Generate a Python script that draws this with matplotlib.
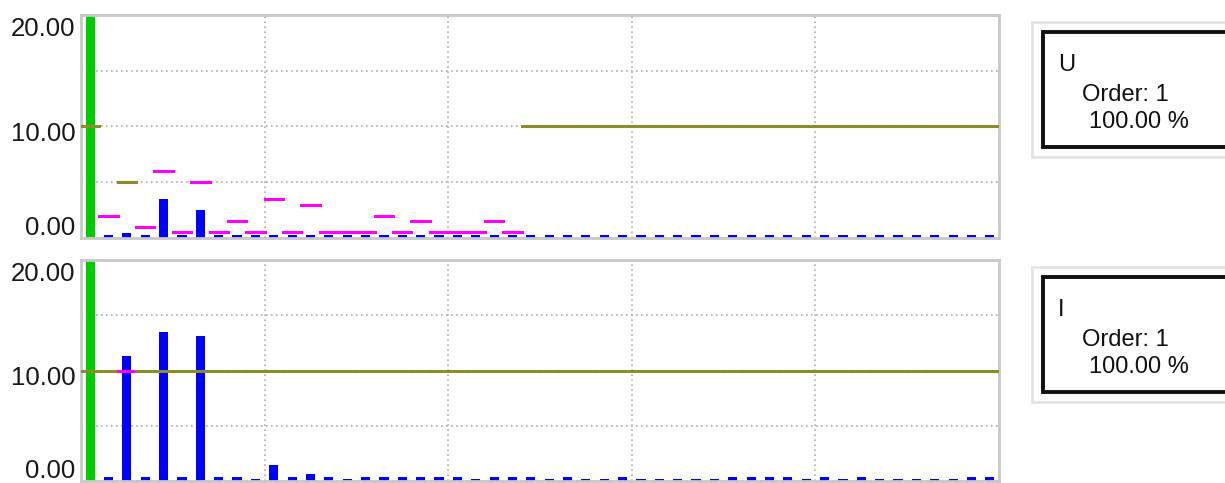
import numpy as np
import matplotlib.pyplot as plt
from matplotlib.patches import Rectangle
from matplotlib.transforms import blended_transform_factory

plt.rcParams['font.family'] = ['Liberation Sans', 'DejaVu Sans']

# harmonic orders 1..50
orders = np.arange(1, 51)

# measured values (%), order 1 is the fundamental (100 %)
u_values = [100, 0.27, 0.45, 0.27, 3.5, 0.27, 2.5, 0.27, 0.27, 0.27,
            0.27, 0.27, 0.27, 0.27, 0.27, 0.27, 0.27, 0.27, 0.27, 0.27,
            0.27, 0.27, 0.27, 0.27, 0.27, 0.27, 0.27, 0.27, 0.27, 0.27,
            0.27, 0.27, 0.27, 0.27, 0.27, 0.27, 0.27, 0.27, 0.27, 0.27,
            0.27, 0.27, 0.27, 0.27, 0.27, 0.27, 0.27, 0.27, 0.27, 0.27]
i_values = [100, 0.4, 11.3, 0.4, 13.5, 0.4, 13.1, 0.4, 0.4, 0.18,
            1.45, 0.4, 0.65, 0.4, 0.18, 0.4, 0.4, 0.4, 0.4, 0.4,
            0.4, 0.18, 0.4, 0.4, 0.4, 0.18, 0.4, 0.18, 0.18, 0.4,
            0.18, 0.18, 0.18, 0.18, 0.18, 0.4, 0.4, 0.4, 0.4, 0.18,
            0.4, 0.18, 0.4, 0.18, 0.18, 0.18, 0.18, 0.18, 0.4, 0.4]

# limit levels per order
u_limits = [10, 2, 5, 1, 6, 0.5, 5, 0.5, 1.5, 0.5,
            3.5, 0.5, 3, 0.5, 0.5, 0.5, 2, 0.5, 1.5, 0.5,
            0.5, 0.5, 1.5, 0.5] + [10] * 26
i_limits = [10] * 50
u_olive_orders = [1, 3] + list(range(25, 51))
i_olive_orders = [o for o in range(1, 51) if o != 3]

y_tick_labels = ['0.00', '10.00', '20.00']
box_titles = ['U', 'I']
box_order = 'Order: 1'
box_percent = '100.00 %'

W, H = 1225, 483
fig = plt.figure(figsize=(W / 100, H / 100), dpi=100, facecolor='white')

GRID = '#adadad'
OLIVE = '#8c8c28'
MAGENTA = '#ff00ff'
BLUE = '#0000ff'
GREEN = '#00cc00'


def draw_panel(rect, values, limits, olive_orders):
    ax = fig.add_axes(rect)
    ax.set_xlim(0.5, 50.5)
    ax.set_ylim(0, 20)
    for y in [0, 5, 10, 15, 20]:
        ax.axhline(y, color=GRID, lw=1.2, ls=(0, (1, 2)), zorder=0)
    for x in [10.5, 20.5, 30.5, 40.5]:
        ax.axvline(x, color=GRID, lw=1.2, ls=(0, (1, 2)), zorder=0)

    colors = [GREEN if o == 1 else BLUE for o in orders]
    ax.bar(orders, values, width=0.5, color=colors, zorder=2)

    for o, lim in zip(orders, limits):
        c = OLIVE if o in olive_orders else MAGENTA
        ax.hlines(lim, o - 0.5, o + 0.5, color=c, lw=2.2, zorder=3,
                  capstyle='projecting')

    ax.set_xticks([])
    ax.set_yticks([])
    for s in ax.spines.values():
        s.set_color('#c8c8c8')
        s.set_linewidth(2)
    trans = blended_transform_factory(ax.transAxes, ax.transData)
    for lab, y in zip(y_tick_labels, [0.9, 9.3, 18.7]):
        ax.text(-0.006, y, lab, transform=trans, ha='right', va='center',
                fontsize=18.5, color='#181818')
    return ax


draw_panel([81 / W, 1 - 238 / H, 918 / W, 223 / H], u_values, u_limits, u_olive_orders)
draw_panel([81 / W, 1 - 481 / H, 918 / W, 221 / H], i_values, i_limits, i_olive_orders)


def fx(px):
    return px / W


def fy(py):
    return 1 - py / H


# info boxes on the right
for title, top in zip(box_titles, [22, 267]):
    fig.patches.append(Rectangle((fx(1032), fy(top + 135)), fx(220), 135 / H,
                                 transform=fig.transFigure, facecolor='#fdfdfd',
                                 edgecolor='#e4e4e4', lw=2))
    fig.patches.append(Rectangle((fx(1043), fy(top + 125)), fx(200), 115 / H,
                                 transform=fig.transFigure, facecolor='white',
                                 edgecolor='#111111', lw=2.8))
    fig.text(fx(1058), fy(top + 43), title, fontsize=17, ha='left', va='center', color='#111111')
    fig.text(fx(1082), fy(top + 73), box_order, fontsize=17, ha='left', va='center', color='#111111')
    fig.text(fx(1089), fy(top + 100), box_percent, fontsize=17, ha='left', va='center', color='#111111')

fig.savefig('out.png', dpi=100, facecolor='white')
